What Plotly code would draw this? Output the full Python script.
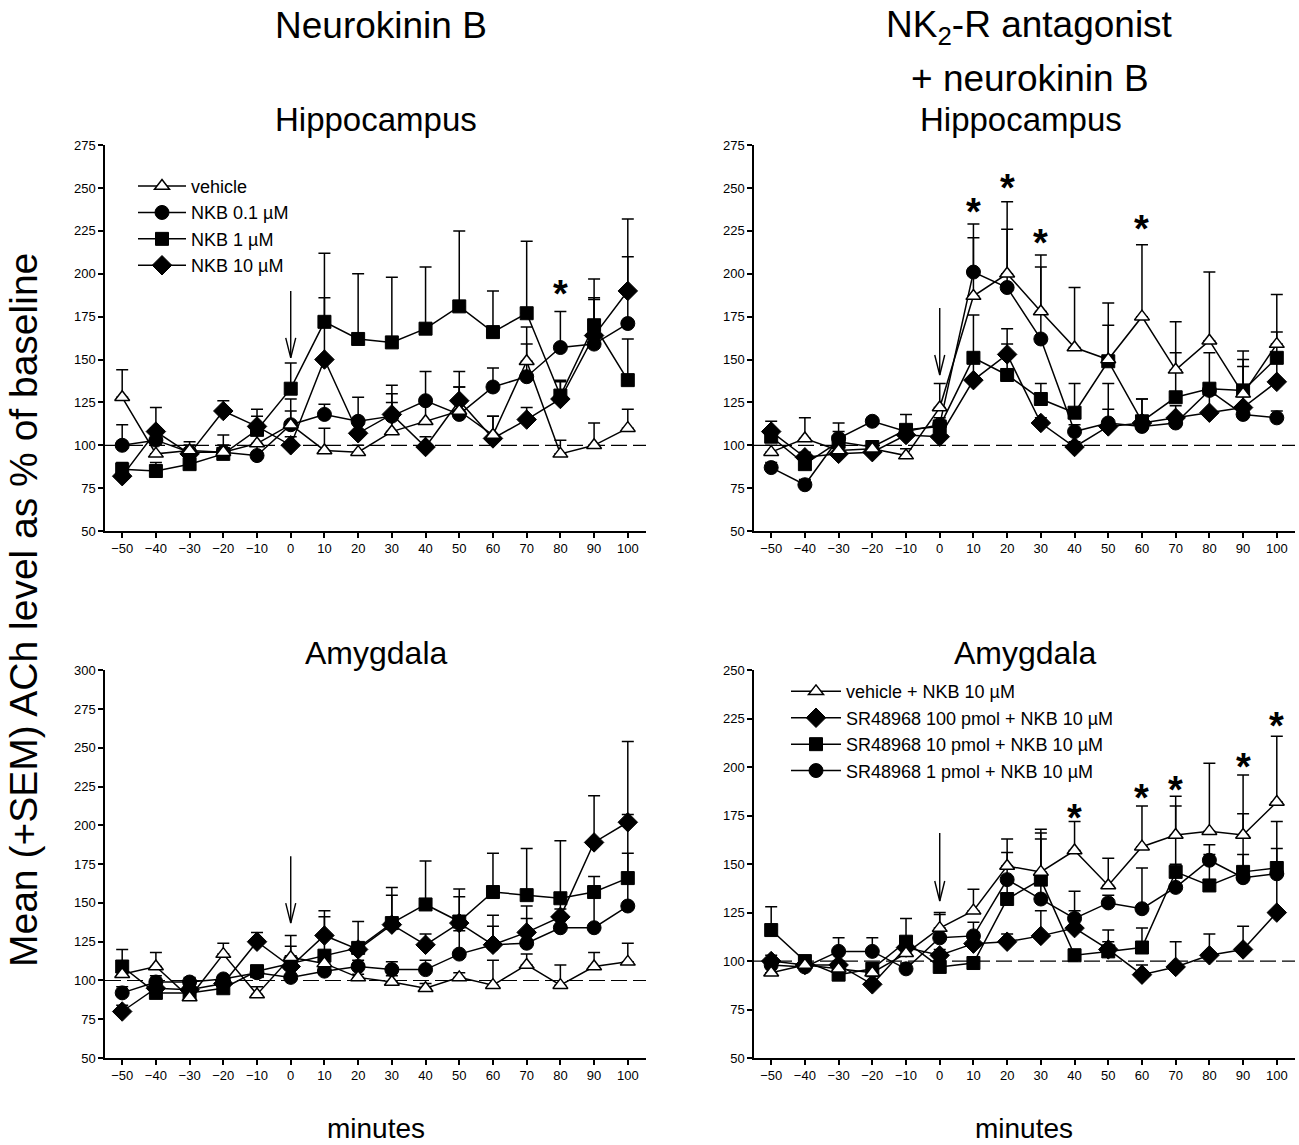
import plotly.graph_objects as go

minutes = [-50, -40, -30, -20, -10, 0, 10, 20, 30, 40, 50, 60, 70, 80, 90, 100]

# ---- Top-left: Neurokinin B, Hippocampus ----
tl_vehicle = [128, 95, 97, 96, 101, 112, 97, 96, 108, 114, 120, 106, 149, 95, 100, 110]
tl_vehicle_up = [144, 100, 100, 100, 106, 120, 110, 100, 125, 124, 134, 117, 169, 103, 113, 121]
tl_nkb01 = [100, 103, 96, 96, 94, 112, 118, 114, 117, 126, 118, 134, 140, 157, 159, 171]
tl_nkb01_up = [112, 110, 102, 106, 100, 127, 124, 128, 130, 143, 134, 145, 159, 178, 185, 210]
tl_nkb1 = [86, 85, 89, 95, 109, 133, 172, 162, 160, 168, 181, 166, 177, 129, 170, 138]
tl_nkb1_up = [90, 90, 93, 100, 117, 148, 212, 200, 198, 204, 225, 190, 219, 138, 197, 162]
tl_nkb10 = [82, 108, 95, 120, 111, 100, 150, 107, 118, 99, 126, 104, 115, 127, 164, 190]
tl_nkb10_up = [88, 122, 100, 126, 121, 105, 186, 115, 135, 105, 143, 117, 122, 137, 186, 232]

# ---- Top-right: NK2-R antagonist + NKB, Hippocampus ----
tr_vehicle = [96, 104, 97, 98, 94, 122, 187, 200, 178, 157, 150, 175, 144, 161, 130, 159]
tr_vehicle_up = [100, 116, 102, 102, 98, 136, 221, 242, 211, 192, 170, 217, 172, 201, 150, 188]
tr_sr100 = [108, 93, 95, 96, 106, 105, 138, 153, 113, 99, 111, 113, 116, 119, 122, 137]
tr_sr100_up = [114, 96, 100, 98, 110, 108, 150, 168, 116, 102, 121, 127, 123, 130, 146, 150]
tr_sr10 = [105, 89, 102, 99, 109, 111, 151, 141, 127, 119, 149, 114, 128, 133, 132, 151]
tr_sr10_up = [109, 93, 108, 101, 118, 114, 176, 159, 136, 136, 183, 127, 154, 154, 155, 166]
tr_sr1 = [87, 77, 104, 114, 108, 112, 201, 192, 162, 108, 113, 111, 113, 132, 118, 116]
tr_sr1_up = [90, 80, 113, 116, 110, 116, 229, 226, 204, 112, 136, 114, 116, 136, 122, 120]

# ---- Bottom-left: Neurokinin B, Amygdala ----
bl_vehicle = [104, 109, 89, 117, 91, 115, 111, 102, 99, 95, 102, 97, 110, 97, 109, 112]
bl_vehicle_up = [108, 118, 92, 124, 96, 129, 116, 104, 103, 98, 105, 113, 117, 110, 118, 124]
bl_nkb01 = [92, 99, 99, 101, 105, 102, 106, 109, 107, 107, 117, 123, 124, 134, 134, 148]
bl_nkb01_up = [96, 103, 102, 103, 108, 108, 110, 113, 112, 113, 132, 142, 140, 150, 155, 182]
bl_nkb1 = [109, 92, 92, 95, 106, 111, 116, 121, 137, 149, 138, 157, 155, 153, 157, 166]
bl_nkb1_up = [120, 96, 96, 98, 108, 122, 141, 138, 160, 177, 159, 182, 185, 190, 167, 207]
bl_nkb10 = [80, 95, 94, 98, 125, 109, 129, 120, 136, 123, 137, 123, 131, 141, 189, 202]
bl_nkb10_up = [84, 100, 97, 101, 131, 116, 145, 124, 155, 130, 154, 135, 148, 146, 219, 254]

# ---- Bottom-right: NK2-R antagonist + NKB, Amygdala ----
br_vehicle = [94, 98, 96, 94, 104, 117, 126, 149, 146, 157, 139, 159, 165, 167, 165, 182]
br_vehicle_up = [98, 101, 99, 97, 107, 125, 137, 163, 168, 172, 153, 180, 185, 202, 196, 216]
br_sr100 = [100, 98, 98, 88, 107, 103, 109, 110, 113, 117, 106, 93, 97, 103, 106, 125]
br_sr100_up = [103, 100, 100, 92, 110, 106, 112, 114, 126, 126, 110, 98, 110, 114, 118, 146]
br_sr10 = [116, 100, 93, 96, 110, 97, 99, 132, 142, 103, 105, 107, 146, 139, 146, 148]
br_sr10_up = [128, 101, 96, 99, 122, 101, 101, 142, 163, 106, 116, 117, 180, 160, 176, 158]
br_sr1 = [98, 97, 105, 105, 96, 112, 113, 142, 132, 122, 130, 127, 138, 152, 143, 145]
br_sr1_up = [101, 99, 112, 112, 99, 124, 120, 156, 166, 136, 134, 148, 150, 155, 155, 172]

# significance asterisks
tl_star_x = [80]
tl_star_y = [188]
tr_star_x = [10, 20, 30, 60]
tr_star_y = [236, 250, 218, 226]
br_star_x = [40, 60, 70, 90, 100]
br_star_y = [174, 184, 188, 200, 221]

# infusion arrows (tip, tail)
arrow_tl = (151, 190)
arrow_tr = (141, 180)
arrow_bl = (137, 180)
arrow_br = (131, 166)

FONT = "Liberation Sans, Arial, sans-serif"
W, H = 1299, 1145

def px_x(p):
    return p / W

def px_y(p):
    return 1 - p / H

STY = {
    "tri": dict(symbol="triangle-up", size=13, color="white", line=dict(color="black", width=1.5)),
    "cir": dict(symbol="circle", size=14, color="black", line=dict(color="black", width=1)),
    "sq": dict(symbol="square", size=13, color="black", line=dict(color="black", width=1)),
    "dia": dict(symbol="diamond", size=15, color="black", line=dict(color="black", width=1)),
}

fig = go.Figure()

def add(vals, ups, sty, name, xa, ya, legend=None):
    fig.add_trace(go.Scatter(
        x=minutes, y=vals, mode="lines+markers", name=name,
        xaxis=xa, yaxis=ya,
        line=dict(color="black", width=1.5),
        marker=STY[sty],
        error_y=dict(type="data", symmetric=False,
                     array=[u - v for u, v in zip(ups, vals)],
                     arrayminus=[0] * len(vals),
                     color="black", thickness=1.5, width=6),
        showlegend=legend is not None,
        legend=legend if legend else "legend",
    ))

# top-left
add(tl_nkb10, tl_nkb10_up, "dia", "NKB 10 µM", "x", "y", legend="legend")
add(tl_nkb1, tl_nkb1_up, "sq", "NKB 1 µM", "x", "y", legend="legend")
add(tl_nkb01, tl_nkb01_up, "cir", "NKB 0.1 µM", "x", "y", legend="legend")
add(tl_vehicle, tl_vehicle_up, "tri", "vehicle", "x", "y", legend="legend")
# top-right
add(tr_sr100, tr_sr100_up, "dia", "", "x2", "y2")
add(tr_sr10, tr_sr10_up, "sq", "", "x2", "y2")
add(tr_sr1, tr_sr1_up, "cir", "", "x2", "y2")
add(tr_vehicle, tr_vehicle_up, "tri", "", "x2", "y2")
# bottom-left
add(bl_nkb10, bl_nkb10_up, "dia", "", "x3", "y3")
add(bl_nkb1, bl_nkb1_up, "sq", "", "x3", "y3")
add(bl_nkb01, bl_nkb01_up, "cir", "", "x3", "y3")
add(bl_vehicle, bl_vehicle_up, "tri", "", "x3", "y3")
# bottom-right
add(br_sr1, br_sr1_up, "cir", "SR48968 1 pmol + NKB 10 µM", "x4", "y4", legend="legend2")
add(br_sr10, br_sr10_up, "sq", "SR48968 10 pmol + NKB 10 µM", "x4", "y4", legend="legend2")
add(br_sr100, br_sr100_up, "dia", "SR48968 100 pmol + NKB 10 µM", "x4", "y4", legend="legend2")
add(br_vehicle, br_vehicle_up, "tri", "vehicle + NKB 10 µM", "x4", "y4", legend="legend2")

xdom_l = [px_x(105), px_x(646)]
xdom_r = [px_x(754), px_x(1295)]
ydom_t = [px_y(531), px_y(140)]
ydom_b = [px_y(1065), px_y(672)]

axis_common = dict(showline=True, linecolor="black", linewidth=1.5, ticks="outside",
                   ticklen=5, tickwidth=1.5, tickcolor="black", showgrid=False, zeroline=False,
                   tickfont=dict(family=FONT, size=13, color="black"))

def xax(dom, anchor):
    return dict(domain=dom, anchor=anchor, range=[-55.1, 105.4], tickvals=minutes, **axis_common)

def yax(dom, anchor, rng):
    return dict(domain=dom, anchor=anchor, range=rng, tick0=50, dtick=25, **axis_common)

annotations = []
def txt(text, x, y, size):
    annotations.append(dict(text=text, x=px_x(x), y=px_y(y), xref="paper", yref="paper",
                            showarrow=False, xanchor="center", yanchor="middle",
                            font=dict(family=FONT, size=size, color="black")))

txt("Neurokinin B", 381, 19, 37)
txt("NK<sub>2</sub>-R antagonist", 1029, 20, 37)
txt("+ neurokinin B", 1030, 72, 37)
txt("Hippocampus", 376, 114, 33)
txt("Hippocampus", 1021, 114, 33)
txt("Amygdala", 376, 655, 32)
txt("Amygdala", 1025, 655, 32)
txt("minutes", 376, 1136, 28)
txt("minutes", 1024, 1136, 28)
annotations.append(dict(text="Mean (+SEM) ACh level as % of baseline", x=px_x(24), y=px_y(611),
                        xref="paper", yref="paper", showarrow=False, textangle=-90,
                        xanchor="center", yanchor="middle",
                        font=dict(family=FONT, size=39, color="black")))

def stars(xs, ys, xa, ya):
    for sx, sy in zip(xs, ys):
        annotations.append(dict(text="<b>*</b>", x=sx, y=sy, xref=xa, yref=ya, showarrow=False,
                                xanchor="center", yanchor="middle", yshift=0,
                                font=dict(family=FONT, size=38, color="black")))

stars(tl_star_x, tl_star_y, "x", "y")
stars(tr_star_x, tr_star_y, "x2", "y2")
stars(br_star_x, br_star_y, "x4", "y4")

shapes = []
for xa, ya in [("x", "y"), ("x2", "y2"), ("x3", "y3"), ("x4", "y4")]:
    shapes.append(dict(type="line", xref=xa + " domain", yref=ya, x0=0, x1=1, y0=100, y1=100,
                       line=dict(color="black", width=1.2, dash="16px,6px"), layer="below"))

def arrow(a, xa, ya):
    shapes.append(dict(type="line", xref=xa, yref=ya, x0=0, x1=0, y0=a[1], y1=a[0],
                       line=dict(color="black", width=1.4)))
    shapes.append(dict(type="path", xref=xa, yref=ya, xsizemode="pixel", ysizemode="pixel",
                       xanchor=0, yanchor=a[0], path="M-5,20 L0,0 L5,20",
                       line=dict(color="black", width=1.4)))

arrow(arrow_tl, "x", "y")
arrow(arrow_tr, "x2", "y2")
arrow(arrow_bl, "x3", "y3")
arrow(arrow_br, "x4", "y4")

fig.update_layout(
    width=W, height=H, margin=dict(l=0, r=0, t=0, b=0),
    paper_bgcolor="white", plot_bgcolor="white",
    font=dict(family=FONT, color="black"),
    xaxis=xax(xdom_l, "y"), yaxis=yax(ydom_t, "x", [50, 275]),
    xaxis2=xax(xdom_r, "y2"), yaxis2=yax(ydom_t, "x2", [50, 275]),
    xaxis3=xax(xdom_l, "y3"), yaxis3=yax(ydom_b, "x3", [50, 300]),
    xaxis4=xax(xdom_r, "y4"), yaxis4=yax(ydom_b, "x4", [50, 250]),
    annotations=annotations, shapes=shapes,
    legend=dict(x=px_x(133), y=px_y(163), xanchor="left", yanchor="top",
                traceorder="reversed", bgcolor="rgba(0,0,0,0)", itemwidth=48,
                font=dict(family=FONT, size=18, color="black"), tracegroupgap=0),
    legend2=dict(x=px_x(786), y=px_y(675), xanchor="left", yanchor="top",
                 traceorder="reversed", bgcolor="rgba(0,0,0,0)", itemwidth=50,
                 font=dict(family=FONT, size=18, color="black"), tracegroupgap=0),
)

fig.write_html("out.html")
